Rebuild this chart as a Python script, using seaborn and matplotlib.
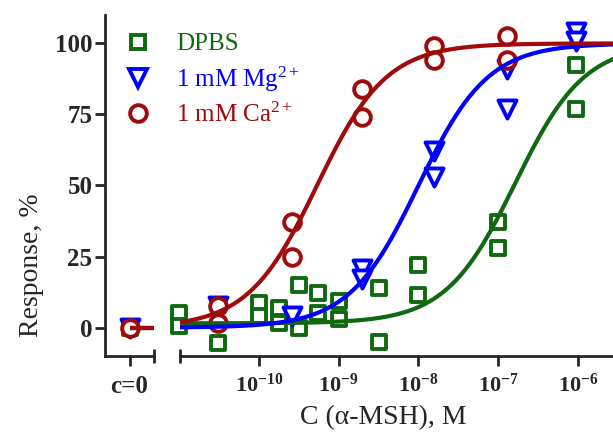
import numpy as np
import pandas as pd
import matplotlib
matplotlib.use("Agg")
import matplotlib.pyplot as plt
import matplotlib.ticker as mticker
from matplotlib.lines import Line2D
import seaborn as sns

# DPBS (green squares), concentration in M, response in %
dpbs_conc = [1e-11, 1e-11, 3.1e-11, 1e-10, 1e-10, 1.8e-10, 1.8e-10, 3.2e-10, 3.2e-10,
             5.6e-10, 5.6e-10, 1e-9, 1e-9, 3.2e-9, 3.2e-9, 1e-8, 1e-8, 1e-7, 1e-7,
             9.5e-7, 9.5e-7]
dpbs_resp = [5, 0.5, -5.5, 8.5, 4, 7, 1.5, 15, 0, 12, 5, 9.5, 3, 14, -5, 22, 11.5,
             37, 28, 92.5, 77]
# 1 mM Mg2+ (blue triangles)
mg_conc = [3.1e-11, 2.6e-10, 1.95e-9, 1.95e-9, 1.55e-8, 1.55e-8, 1.27e-7, 1.27e-7,
           9.5e-7, 9.5e-7]
mg_resp = [7.5, 4, 20.5, 17, 62, 53, 91, 77, 104, 101]
# 1 mM Ca2+ (red circles)
ca_conc = [3.1e-11, 3.1e-11, 2.6e-10, 2.6e-10, 1.95e-9, 1.95e-9, 1.55e-8, 1.55e-8,
           1.27e-7, 1.27e-7]
ca_resp = [7.5, 1.5, 37, 25, 84, 74, 99, 94, 102.5, 94]

# response without agonist (c=0 segment)
dpbs_zero = [0]
mg_zero = [0]
ca_zero = [0]

# Hill fits: bottom, top, logEC50, slope
dpbs_fit = (1.5, 100, -6.79, 1.0)
mg_fit = (0, 100, -8.0, 1.0)
ca_fit = (0, 100, -9.27, 1.0)

labels = ["DPBS", r"1 mM Mg$^{2+}$", r"1 mM Ca$^{2+}$"]
colors = ["#0f6a0f", "#0000ff", "#a00a0a"]
markers = ["s", "v", "o"]
msizes = [10, 13, 12]

x_ticks = [1e-10, 1e-9, 1e-8, 1e-7, 1e-6]
x_ticklabels = [r"$\mathbf{10^{-10}}$", r"$\mathbf{10^{-9}}$", r"$\mathbf{10^{-8}}$",
                r"$\mathbf{10^{-7}}$", r"$\mathbf{10^{-6}}$"]
y_ticks = [0, 25, 50, 75, 100]


def hill(logx, p):
    bottom, top, logec50, n = p
    return bottom + (top - bottom) / (1 + 10 ** ((logec50 - logx) * n))


sns.set_style("ticks")
plt.rcParams["font.family"] = ["Liberation Serif", "DejaVu Serif"]
plt.rcParams["mathtext.fontset"] = "custom"
plt.rcParams["mathtext.rm"] = "Liberation Serif"
plt.rcParams["mathtext.it"] = "Liberation Serif:italic"
plt.rcParams["mathtext.bf"] = "Liberation Serif:bold"

W, H = 613, 441
fig = plt.figure(figsize=(W / 100, H / 100), dpi=100)
ax_l = fig.add_axes([105 / W, 85 / H, 49 / W, 341 / H])
ax_r = fig.add_axes([180 / W, 85 / H, 439 / W, 341 / H])

xmin, xmax = 10 ** -10.985, 10 ** -5.49
ax_r.set_xscale("log")

series = [
    (dpbs_conc, dpbs_resp, dpbs_zero, dpbs_fit),
    (mg_conc, mg_resp, mg_zero, mg_fit),
    (ca_conc, ca_resp, ca_zero, ca_fit),
]
# markers (white filled) below, fitted curves on top
mark_z = [3, 4, 5]
line_z = [6, 7, 8]

logx = np.linspace(np.log10(xmin), np.log10(xmax), 300)
for i, (conc, resp, zero, fit) in enumerate(series):
    c = colors[i]
    sns.lineplot(x=10 ** logx, y=hill(logx, fit), color=c, lw=3, ax=ax_r,
                 zorder=line_z[i])
    sns.scatterplot(x=conc, y=resp, marker=markers[i], s=msizes[i] ** 2,
                    facecolor="white", edgecolor=c, linewidth=2.8, ax=ax_r,
                    zorder=mark_z[i], clip_on=False)
    # c=0 segment: short baseline from the c=0 point to the axis break
    ax_l.plot([0, 1], [zero[0], zero[0]], color=c, lw=3, zorder=line_z[i],
              solid_capstyle="butt")
    sns.scatterplot(x=[0] * len(zero), y=zero, marker=markers[i], s=msizes[i] ** 2,
                    facecolor="white", edgecolor=c, linewidth=2.8, ax=ax_l,
                    zorder=mark_z[i], clip_on=False)

# axes styling
for ax in (ax_l, ax_r):
    ax.set_ylim(-10, 110)
    ax.spines["top"].set_visible(False)
    ax.spines["right"].set_visible(False)
    ax.spines["bottom"].set_linewidth(2)
    ax.spines["left"].set_linewidth(2)

ax_l.set_xlim(-1, 1)
ax_l.set_xticks([0])
ax_l.set_xticklabels(["c=0"], fontsize=18, fontweight="bold")
ax_l.xaxis.set_minor_locator(mticker.FixedLocator([1]))
ax_l.tick_params(axis="x", which="minor", direction="inout", length=9.5, width=2)
ax_l.tick_params(axis="x", which="major", direction="out", length=7.5, width=2, pad=6)
ax_l.set_yticks(y_ticks)
ax_l.set_yticklabels([str(v) for v in y_ticks], fontsize=18, fontweight="bold")
ax_l.tick_params(axis="y", direction="out", length=7, width=2, pad=2)
ax_l.set_ylabel("Response, %", fontsize=20, va="center")
ax_l.yaxis.set_label_coords(-1.49, 0.267)

ax_r.set_xlim(xmin, xmax)
ax_r.spines["left"].set_visible(False)
ax_r.set_yticks([])
ax_r.xaxis.set_major_locator(mticker.FixedLocator(x_ticks))
ax_r.xaxis.set_major_formatter(mticker.FixedFormatter(x_ticklabels))
ax_r.xaxis.set_minor_locator(mticker.FixedLocator([xmin]))
ax_r.xaxis.set_minor_formatter(mticker.NullFormatter())
ax_r.tick_params(axis="x", which="minor", direction="inout", length=9.5, width=2)
ax_r.tick_params(axis="x", which="major", direction="out", length=7.5, width=2,
                 pad=5, labelsize=16)
ax_r.set_xlabel("C (\u03b1-MSH), M", fontsize=20, va="center")
ax_r.xaxis.set_label_coords((383 - 180) / 439, (356 - 418) / 341)

handles = [Line2D([], [], ls="", marker=markers[i], mfc="none", mec=colors[i],
                  ms=msizes[i], mew=2.8) for i in range(3)]
fig.legend(handles, labels, loc="upper left", bbox_to_anchor=(125 / W, 1 - 33 / H),
           frameon=False, fontsize=18, handlelength=1.0, handletextpad=1.05,
           labelspacing=0.35, borderpad=0, borderaxespad=0, labelcolor=colors)

fig.savefig("out.png", dpi=100)
